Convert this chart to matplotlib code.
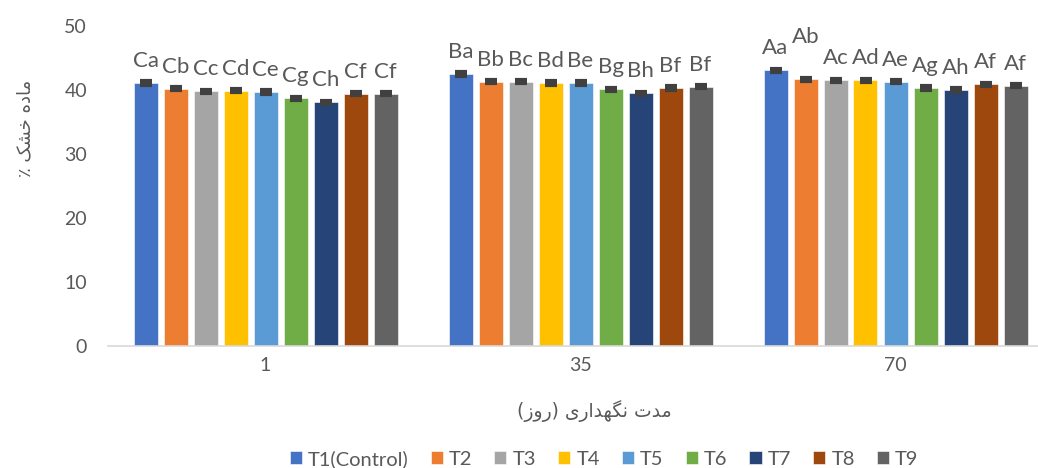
import numpy as np
import matplotlib
matplotlib.use('Agg')
import matplotlib.pyplot as plt

plt.rcParams['font.family'] = ['Lato', 'DejaVu Sans']

groups = ['1', '35', '70']
series = ['T1(Control)', 'T2', 'T3', 'T4', 'T5', 'T6', 'T7', 'T8', 'T9']
colors = ['#4472C4', '#ED7D31', '#A5A5A5', '#FFC000', '#5B9BD5',
          '#70AD47', '#264478', '#9E480E', '#636363']

# dry matter % for each group (rows) and treatment (columns)
day1 = [41.1, 40.2, 39.8, 39.9, 39.7, 38.7, 38.1, 39.4, 39.4]
day35 = [42.5, 41.3, 41.3, 41.1, 41.1, 40.1, 39.5, 40.3, 40.5]
day70 = [43.1, 41.7, 41.5, 41.5, 41.3, 40.3, 40.0, 40.9, 40.7]
err1 = [0.25, 0.25, 0.25, 0.25, 0.25, 0.25, 0.25, 0.25, 0.25]
err35 = [0.25, 0.25, 0.25, 0.25, 0.25, 0.25, 0.25, 0.25, 0.25]
err70 = [0.25, 0.25, 0.25, 0.25, 0.25, 0.25, 0.25, 0.25, 0.25]

lab1 = ['Ca', 'Cb', 'Cc', 'Cd', 'Ce', 'Cg', 'Ch', 'Cf', 'Cf']
lab35 = ['Ba', 'Bb', 'Bc', 'Bd', 'Be', 'Bg', 'Bh', 'Bf', 'Bf']
lab70 = ['Aa', 'Ab', 'Ac', 'Ad', 'Ae', 'Ag', 'Ah', 'Af', 'Af']

values = np.array([day1, day35, day70])
errs = np.array([err1, err35, err70])
labels = [lab1, lab35, lab70]

# Persian text written as visual-order presentation forms
ylab = '\u066A \uFB8F\uFEB8\uFEA7 \uFEE9\uFEA9\uFE8E\uFEE3'
xlab = '(\uFEAF\uFEED\uFEAD) \uFBFC\uFEAD\uFE8D\uFEAA\uFEEC\uFB95\uFEE7 \uFE95\uFEAA\uFEE3'

txt = '#595959'
W, H = 1038, 468
fig = plt.figure(figsize=(W / 100, H / 100), dpi=100)
ax = fig.add_axes([108 / W, 1 - 346 / H, 945 / W, 320 / H])

x = np.arange(len(groups))
step = 30 / 315
bw = 24 / 315
for i, s in enumerate(series):
    xs = x - 4 * step + i * step
    ax.bar(xs, values[:, i], width=bw, color=colors[i], label=s,
           edgecolor='white', linewidth=0.4, zorder=2)
    ax.errorbar(xs, values[:, i], yerr=errs[:, i], fmt='none', ecolor='#404040',
                elinewidth=2.5, capsize=4.5, capthick=3, zorder=3)
    for g in range(len(groups)):
        off = 11.5
        if g == 2 and i == 1:
            off = 26
        ax.annotate(labels[g][i], (xs[g], values[g, i]), xytext=(0, off),
                    textcoords='offset points', ha='center', va='baseline',
                    fontsize=16, color=txt)

ax.set_xlim(-0.5, 2.5)
ax.set_ylim(0, 50)
ax.set_yticks([0, 10, 20, 30, 40, 50])
ax.set_xticks(x)
ax.set_xticklabels(groups)
ax.tick_params(axis='both', length=0, labelsize=14, labelcolor=txt)
ax.tick_params(axis='x', pad=8)
ax.tick_params(axis='y', pad=15)
for sp in ['top', 'right', 'left']:
    ax.spines[sp].set_visible(False)
ax.spines['bottom'].set_color('#D9D9D9')
ax.spines['bottom'].set_linewidth(1.2)

fig.text(25 / W, 1 - 128 / H, ylab, rotation=90, ha='center', va='center',
         fontsize=13, color=txt, family='DejaVu Sans')
fig.text(594 / W, 1 - 411 / H, xlab, ha='center', va='center',
         fontsize=13.5, color=txt, family='DejaVu Sans')

fig.legend(loc='center', bbox_to_anchor=(604 / W, 1 - 459 / H), ncol=9,
           frameon=False, fontsize=14.5, labelcolor=txt, handlelength=0.6,
           handleheight=0.6, handletextpad=0.3, columnspacing=1.1)

fig.savefig('out.png', dpi=100)
